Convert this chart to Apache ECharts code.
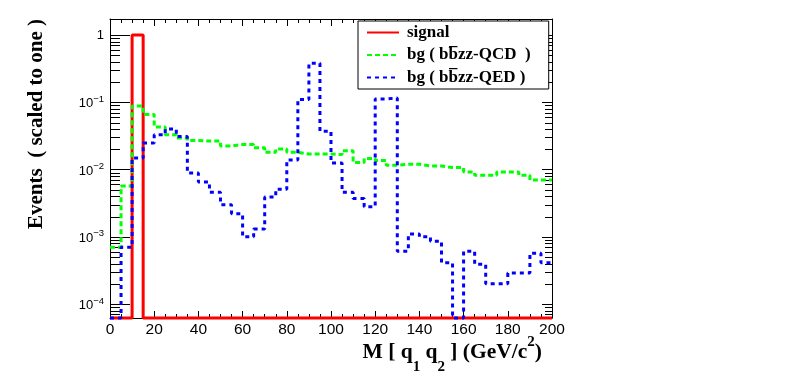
<!DOCTYPE html>
<html>
<head>
<meta charset="utf-8">
<script src="https://cdn.jsdelivr.net/npm/echarts@6/dist/echarts.min.js"></script>
<style>
  html, body { margin: 0; padding: 0; background: #fff; }
  #chart { width: 788px; height: 375px; }
</style>
</head>
<body>
<div id="chart"></div>
<script>
// left edges of the 5 GeV bins, plus the last right edge
const binEdges = [0, 5, 10, 15, 20, 25, 30, 35, 40, 45, 50, 55, 60, 65, 70, 75, 80, 85, 90, 95,
                  100, 105, 110, 115, 120, 125, 130, 135, 140, 145, 150, 155, 160, 165, 170, 175, 180, 185, 190, 195, 200];

// signal : everything in the 10-15 bin
const signal = [0, 0, 1, 0, 0, 0, 0, 0, 0, 0, 0, 0, 0, 0, 0, 0, 0, 0, 0, 0,
                0, 0, 0, 0, 0, 0, 0, 0, 0, 0, 0, 0, 0, 0, 0, 0, 0, 0, 0, 0];

// bg ( bb~zz-QCD )
const bgQCD = [0.0007, 0.0057, 0.088, 0.066, 0.043, 0.033, 0.0295, 0.027, 0.0265, 0.0265,
               0.0224, 0.0235, 0.0235, 0.021, 0.018, 0.0202, 0.018, 0.017, 0.017, 0.017,
               0.0167, 0.019, 0.0127, 0.0146, 0.0136, 0.0116, 0.012, 0.012, 0.0113, 0.0113,
               0.0107, 0.0107, 0.0092, 0.0082, 0.0082, 0.0092, 0.0092, 0.0082, 0.007, 0.007];

// bg ( bb~zz-QED )
const bgQED = [0, 0.0007, 0.0148, 0.0248, 0.033, 0.040, 0.031, 0.0089, 0.0065, 0.0046,
               0.0030, 0.0022, 0.0010, 0.0013, 0.0039, 0.0051, 0.0138, 0.11, 0.38, 0.037,
               0.0125, 0.0046, 0.0037, 0.0028, 0.112, 0.116, 0.00061, 0.0011, 0.0010, 0.00086,
               0.00041, 0, 0.00061, 0.00039, 0.0002, 0.0002, 0.00029, 0.00029, 0.00057, 0.00041];

const yDecades = [1e-4, 1e-3, 1e-2, 1e-1, 1];
const Y_MIN = 6.2e-5;
const Y_MAX = 1.73;

// histogram outline: one point per left edge, last value repeated at 200
const toSteps = vals => {
    const pts = vals.map((v, i) => [binEdges[i], v > 0 ? v : Y_MIN]);
    const last = vals[vals.length - 1];
    pts.push([binEdges[vals.length], last > 0 ? last : Y_MIN]);
    return pts;
};

// log minor ticks 2..9 of every decade
const minorTicks = [];
yDecades.concat([1e-5]).forEach(d => {
    for (let k = 2; k <= 9; k++) {
        const v = d * k;
        if (v > Y_MIN && v < Y_MAX) minorTicks.push([0, v]);
    }
});

const serif = 'Liberation Serif';
const sans = 'Liberation Sans';

const logLabel = v => {
    const lg = Math.log10(v);
    const e = Math.round(lg);
    if (Math.abs(lg - e) > 1e-6) return '';
    if (e === 0) return '{b|1}';
    return '{b|10}{s|' + (e < 0 ? '\u2212' : '') + Math.abs(e) + '}';
};

const chart = echarts.init(document.getElementById('chart'));

chart.setOption({
    animation: false,
    grid: { left: 110, right: 236, top: 19, bottom: 57, containLabel: false },
    legend: {
        data: ['signal', 'bg ( bb\u0305zz-QCD  )', 'bg ( bb\u0305zz-QED )'],
        orient: 'vertical',
        left: 358,
        top: 21,
        padding: [1.5, 18, 1.5, 8],
        itemGap: 2.5,
        itemWidth: 32,
        itemHeight: 14,
        borderColor: '#000',
        borderWidth: 1,
        backgroundColor: '#fff',
        itemStyle: { opacity: 0 },
        textStyle: {
            fontFamily: serif, fontWeight: 'bold', fontSize: 17, color: '#000',
            lineHeight: 20, padding: [0, 0, 0, 3]
        }
    },
    xAxis: [{
        type: 'value', min: 0, max: 200, interval: 20, position: 'bottom',
        axisLine: { show: true, onZero: false, lineStyle: { color: '#000', width: 1 } },
        axisTick: { show: true, inside: true, length: 7, lineStyle: { color: '#000' } },
        minorTick: { show: true, splitNumber: 4, length: 4, lineStyle: { color: '#000' } },
        axisLabel: { fontFamily: sans, fontSize: 15.5, color: '#000', margin: 4 },
        splitLine: { show: false }
    }, {
        type: 'value', min: 0, max: 200, interval: 20, position: 'top',
        axisLine: { show: true, onZero: false, lineStyle: { color: '#000', width: 1 } },
        axisTick: { show: true, inside: true, length: 7, lineStyle: { color: '#000' } },
        minorTick: { show: true, splitNumber: 4, length: 4, lineStyle: { color: '#000' } },
        axisLabel: { show: false },
        splitLine: { show: false }
    }],
    yAxis: [{
        type: 'log', min: Y_MIN, max: Y_MAX, position: 'left',
        axisLine: { show: true, onZero: false, lineStyle: { color: '#000', width: 1 } },
        axisTick: { show: true, inside: true, length: 20, lineStyle: { color: '#000' } },
        axisLabel: {
            fontFamily: sans, color: '#000', margin: 6,
            showMinLabel: false, showMaxLabel: false,
            formatter: logLabel,
            rich: {
                b: { fontFamily: sans, fontSize: 13, color: '#000', verticalAlign: 'bottom' },
                s: { fontFamily: sans, fontSize: 9.5, color: '#000', verticalAlign: 'bottom', padding: [0, 0, 6, 0] }
            }
        },
        splitLine: { show: false }
    }, {
        type: 'log', min: Y_MIN, max: Y_MAX, position: 'right',
        axisLine: { show: true, onZero: false, lineStyle: { color: '#000', width: 1 } },
        axisTick: { show: true, inside: true, length: 10, lineStyle: { color: '#000' } },
        axisLabel: { show: false },
        splitLine: { show: false }
    }],
    graphic: [{
        type: 'text',
        x: 37, y: 124,
        rotation: Math.PI / 2,
        style: {
            text: 'Events  ( scaled to one )',
            font: 'bold 21px "Liberation Serif"',
            fill: '#000',
            align: 'center',
            verticalAlign: 'middle'
        }
    }, {
        type: 'text',
        x: 542, y: 335,
        style: {
            text: '{m|M [ q}{d|1}{m| q}{d|2}{m| ] (GeV/c}{u|2}{m|)}',
            align: 'right',
            verticalAlign: 'top',
            rich: {
                m: { fontFamily: serif, fontWeight: 'bold', fontSize: 21.5, fill: '#000', verticalAlign: 'bottom', padding: [0, 0, 12, 0] },
                d: { fontFamily: serif, fontWeight: 'bold', fontSize: 15, fill: '#000', verticalAlign: 'bottom' },
                u: { fontFamily: serif, fontWeight: 'bold', fontSize: 15, fill: '#000', verticalAlign: 'bottom', padding: [0, 0, 25, 0] }
            }
        }
    }],
    series: [{
        name: 'signal',
        type: 'line',
        step: 'end',
        data: toSteps(signal),
        showSymbol: false,
        symbol: 'none',
        clip: false,
        lineStyle: { color: '#ff0000', width: 3 },
        itemStyle: { color: '#ff0000' }
    }, {
        name: 'bg ( bb\u0305zz-QCD  )',
        type: 'line',
        step: 'end',
        data: toSteps(bgQCD),
        showSymbol: false,
        symbol: 'none',
        clip: false,
        lineStyle: { color: '#00ff00', width: 3, type: [5, 3] },
        itemStyle: { color: '#00ff00' }
    }, {
        name: 'bg ( bb\u0305zz-QED )',
        type: 'line',
        step: 'end',
        data: toSteps(bgQED),
        showSymbol: false,
        symbol: 'none',
        clip: false,
        lineStyle: { color: '#0000ff', width: 3, type: [4, 4] },
        itemStyle: { color: '#0000ff' }
    }, {
        // minor log ticks on the left and right frame
        type: 'custom',
        silent: true,
        clip: false,
        data: minorTicks,
        renderItem: (params, api) => {
            const cs = params.coordSys;
            const y = Math.round(api.coord([0, api.value(1)])[1]) + 0.5;
            return {
                type: 'group',
                children: [{
                    type: 'line',
                    shape: { x1: cs.x, y1: y, x2: cs.x + 10, y2: y },
                    style: { stroke: '#000', lineWidth: 1 }
                }, {
                    type: 'line',
                    shape: { x1: cs.x + cs.width, y1: y, x2: cs.x + cs.width - 7, y2: y },
                    style: { stroke: '#000', lineWidth: 1 }
                }]
            };
        }
    }]
});
</script>
</body>
</html>
